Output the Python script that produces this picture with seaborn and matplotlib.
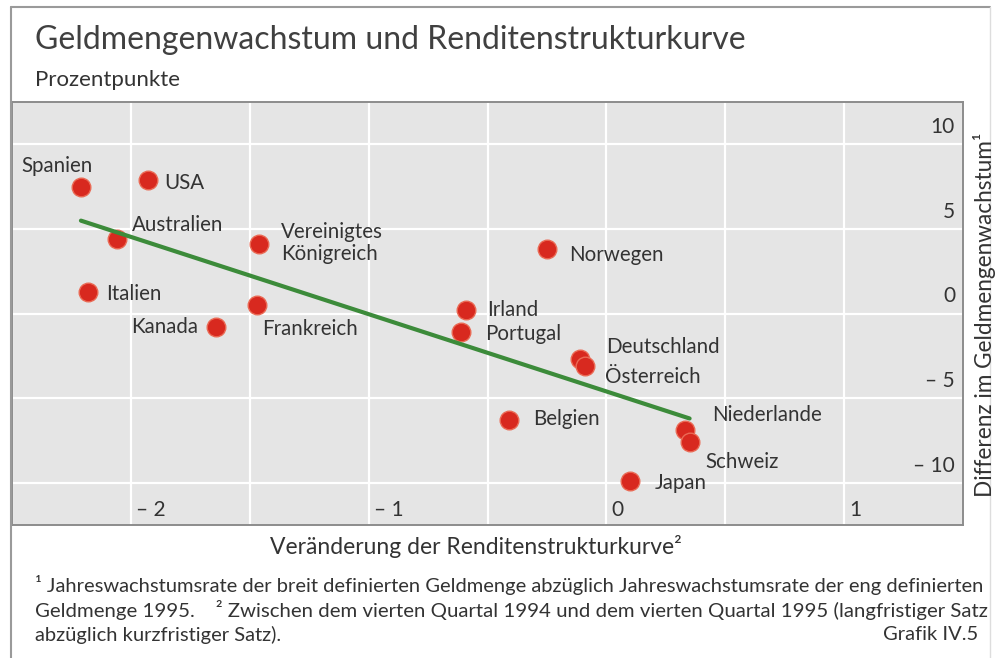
import numpy as np
import pandas as pd
import matplotlib
matplotlib.use("Agg")
import matplotlib.pyplot as plt
import seaborn as sns

# ---- data ----
countries = ["Spanien", "USA", "Australien", "Vereinigtes\nKönigreich", "Italien",
             "Frankreich", "Kanada", "Irland", "Portugal", "Norwegen", "Deutschland",
             "Österreich", "Belgien", "Niederlande", "Schweiz", "Japan"]
x_change = [-2.21, -1.93, -2.06, -1.46, -2.18, -1.47, -1.64, -0.59, -0.61, -0.25,
            -0.11, -0.09, -0.41, 0.33, 0.35, 0.10]
y_money = [7.5, 7.9, 4.4, 4.1, 1.3, 0.5, -0.8, 0.2, -1.1, 3.8, -2.7, -3.1, -6.3,
           -6.9, -7.6, -9.9]
x_ticks = [-2, -1, 0, 1]
x_tick_labels = ["\u2013 2", "\u2013 1", "0", "1"]
y_ticks = [10, 5, 0, -5, -10]
y_tick_labels = ["10", "5", "0", "\u2013 5", "\u2013 10"]

title = "Geldmengenwachstum und Renditenstrukturkurve"
subtitle = "Prozentpunkte"
x_label = "Veränderung der Renditenstrukturkurve²"
y_label = "Differenz im Geldmengenwachstum¹"
foot1 = "¹ Jahreswachstumsrate der breit definierten Geldmenge abzüglich Jahreswachstumsrate der eng definierten"
foot2 = "Geldmenge 1995.    ² Zwischen dem vierten Quartal 1994 und dem vierten Quartal 1995 (langfristiger Satz"
foot3 = "abzüglich kurzfristiger Satz)."
source = "Grafik IV.5"

df = pd.DataFrame({"land": countries, "x": x_change, "y": y_money})

# ---- label placement (pixel offsets, ha) ----
label_pos = {
    "Spanien": (-24, 21, "center"),
    "USA": (17, -3, "left"),
    "Australien": (15, 14, "left"),
    "Vereinigtes\nKönigreich": (22, 1, "left"),
    "Italien": (18, -2, "left"),
    "Frankreich": (5, -24, "left"),
    "Kanada": (-18, 0, "right"),
    "Irland": (21, 0, "left"),
    "Portugal": (24, -2, "left"),
    "Norwegen": (22, -6, "left"),
    "Deutschland": (26, 12, "left"),
    "Österreich": (20, -11, "left"),
    "Belgien": (24, 1, "left"),
    "Niederlande": (27, 15, "left"),
    "Schweiz": (16, -20, "left"),
    "Japan": (25, -2, "left"),
}

sns.set_theme(style="white")
plt.rcParams["font.family"] = ["Lato", "DejaVu Sans"]

W, H = 996, 658
fig = plt.figure(figsize=(W / 100, H / 100), dpi=100)
fig.patch.set_facecolor("white")

txt = "#333333"
ax = fig.add_axes([12 / W, 1 - 525 / H, (963 - 12) / W, (525 - 102) / H])
ax.set_facecolor("#e5e5e5")
ax.set_xlim(-2.5, 1.5)
ax.set_ylim(-12.5, 12.5)

# grid
ax.set_xticks(np.arange(-2.5, 1.51, 0.5))
ax.set_yticks(y_ticks)
ax.grid(True, color="white", linewidth=1.6)
ax.tick_params(length=0, labelbottom=False, labelleft=False)
for s in ax.spines.values():
    s.set_color("#8c8c8c")
    s.set_linewidth(1.4)
ax.set_axisbelow(True)

sns.scatterplot(data=df, x="x", y="y", ax=ax, s=180, color="#d8291f",
                edgecolor="#ea6a55", linewidth=1.0, zorder=3, legend=False)
sns.regplot(data=df, x="x", y="y", ax=ax, scatter=False, ci=None, truncate=True,
            color="#3c8b3a", line_kws={"linewidth": 3.0, "zorder": 4})
ax.set_xlabel("")
ax.set_ylabel("")

for _, r in df.iterrows():
    dx, dy, ha = label_pos[r["land"]]
    ax.annotate(r["land"], (r["x"], r["y"]), xytext=(dx, dy), textcoords="offset pixels",
                ha=ha, va="center", fontsize=14.8, color=txt, linespacing=1.1, zorder=5)

# tick labels inside the plot area
for v, lab in zip(x_ticks, x_tick_labels):
    ax.annotate(lab, (v, 0), xycoords=("data", "axes fraction"), xytext=(5, 5),
                textcoords="offset pixels", ha="left", va="bottom", fontsize=15, color=txt)
for v, lab in zip(y_ticks, y_tick_labels):
    ax.annotate(lab, (1, v), xycoords=("axes fraction", "data"), xytext=(-8, 7),
                textcoords="offset pixels", ha="right", va="bottom", fontsize=15, color=txt)

# titles
fig.text(35 / W, 1 - 40 / H, title, fontsize=23, color="#404040", ha="left", va="center")
fig.text(35 / W, 1 - 80 / H, subtitle, fontsize=16, color=txt, ha="left", va="center")
fig.text(476 / W, 1 - 547 / H, x_label, fontsize=16.5, color=txt, ha="center", va="center")
fig.text(984 / W, 1 - 315 / H, y_label, fontsize=16.3, color=txt, ha="center", va="center",
         rotation=90)

# footnotes (fit first line to the text width)
renderer = fig.canvas.get_renderer()
t1 = fig.text(35 / W, 1 - 585 / H, foot1, fontsize=13, color=txt, ha="left", va="center")
w = t1.get_window_extent(renderer).width
fs = 13 * (950 / w)
t1.set_fontsize(fs)
t2 = fig.text(35 / W, 1 - 610 / H, foot2, fontsize=fs, color=txt, ha="left", va="center")
w2 = t2.get_window_extent(renderer).width
t2.set_fontsize(fs * (950 / w2))
fig.text(35 / W, 1 - 635 / H, foot3, fontsize=fs, color=txt, ha="left", va="center")
fig.text(978 / W, 1 - 635 / H, source, fontsize=fs, color=txt, ha="right", va="center")

# outer frame lines
fig.add_artist(plt.Line2D([11 / W, 11 / W], [0, 1 - 7 / H], transform=fig.transFigure,
                          color="#9a9a9a", linewidth=1.5))
fig.add_artist(plt.Line2D([11 / W, 990 / W], [1 - 7 / H, 1 - 7 / H], transform=fig.transFigure,
                          color="#9a9a9a", linewidth=1.5))
fig.add_artist(plt.Line2D([990 / W, 990 / W], [0, 1 - 7 / H], transform=fig.transFigure,
                          color="#dddddd", linewidth=1.0))

fig.savefig("out.png", dpi=100, facecolor="white")
